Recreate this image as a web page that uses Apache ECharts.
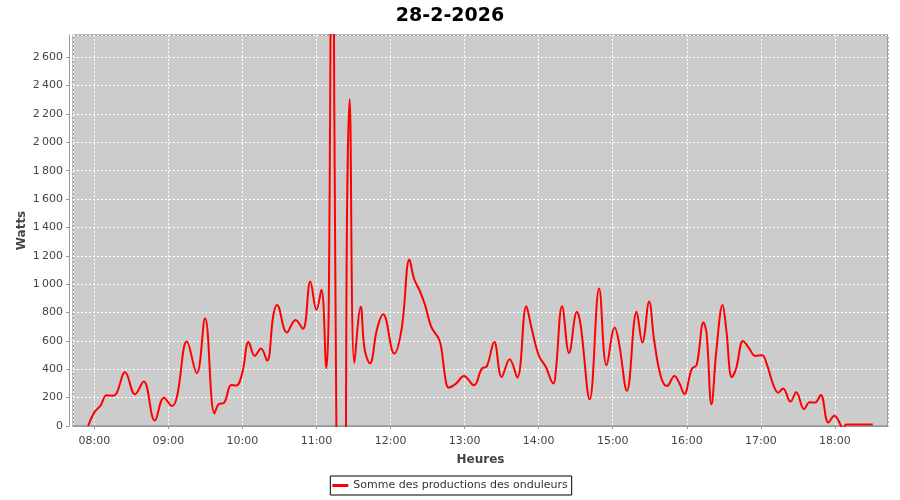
<!DOCTYPE html>
<html>
<head>
<meta charset="utf-8">
<script src="https://cdn.jsdelivr.net/npm/echarts@6/dist/echarts.min.js"></script>
<style>
html,body{margin:0;padding:0;background:#fff;}
#chart{width:900px;height:500px;}
</style>
</head>
<body>
<div id="chart"></div>
<script>
const chartTitle = '28-2-2026';
const seriesName = 'Somme des productions des onduleurs';
const xAxisName = 'Heures';
const yAxisName = 'Watts';
const dayDate = [2026, 1, 28];
const xRange = ['07:42:45', '18:43:00'];
const yRange = [0, 2757];
const yStep = 200;

const times = [
  '07:55','08:00','08:05','08:10','08:15','08:18','08:25','08:33','08:40','08:49',
  '08:56:30','09:03','09:07','09:15','09:23','09:29:45','09:37:20','09:41','09:45','09:51',
  '09:55','10:00','10:05','10:10','10:15','10:20','10:25','10:28','10:36','10:43',
  '10:49','10:55','11:00','11:04','11:08','11:10','11:13','11:14:24','11:16','11:19',
  '11:22','11:24:30','11:26:50','11:30:40','11:35:50','11:39','11:43:20','11:49','11:54','12:03',
  '12:09','12:15:20','12:19','12:24','12:28','12:33','12:39','12:41','12:44:40','12:47',
  '12:53','12:59:30','13:07:30','13:14','13:18','13:24','13:30','13:36:30','13:42:40','13:50',
  '13:54','14:00','14:05:30','14:12','14:13:50','14:19','14:24:40','14:31','14:34','14:41:20',
  '14:49','14:55','15:01:40','15:05','15:11:30','15:19:20','15:24','15:29:30','15:33:30','15:39',
  '15:44','15:50','15:54','15:58','16:04','16:08','16:13:30','16:16','16:20','16:24',
  '16:29','16:32','16:36:30','16:40','16:45:40','16:50:30','16:55:30','17:01','17:05','17:09:40',
  '17:14','17:18','17:24','17:28:40','17:35','17:39:30','17:43:50','17:48:30','17:54:40','17:59:30',
  '18:05','18:07','18:09','18:15','18:20','18:25','18:30:40'
];
const watts = [
  0, 96, 143, 216, 214, 230, 379, 224, 313, 38,
  200, 141, 207, 595, 372, 760, 89, 155, 162, 289,
  285, 379, 593, 494, 546, 461, 779, 854, 659, 748,
  685, 1019, 819, 960, 407, 900, 5000, 2278, 150, -4000,
  -4000, 1247, 2304, 444, 841, 540, 442, 683, 788, 511,
  687, 1174, 1040, 946, 852, 699, 616, 558, 322, 271,
  299, 353, 287, 405, 421, 593, 346, 471, 341, 845,
  699, 499, 421, 299, 381, 845, 515, 805, 711, 188,
  969, 428, 694, 590, 248, 806, 588, 878, 607, 348,
  282, 353, 301, 226, 402, 431, 729, 654, 153, 536,
  854, 678, 344, 407, 600, 548, 494, 499, 431, 301,
  235, 264, 172, 238, 118, 167, 165, 219, 24, 73,
  0, -40, 10, 10, 10, 10, 10
];

function toTs(s) {
  const p = s.split(':').map(Number);
  return new Date(dayDate[0], dayDate[1], dayDate[2], p[0], p[1], p[2] || 0).getTime();
}
function pad(n) { return (n < 10 ? '0' : '') + n; }
function fmtWatts(v) {
  if (v % yStep !== 0) return '';
  if (v >= 1000) return Math.floor(v / 1000) + '\u202F' + String(v % 1000).padStart(3, '0');
  return String(v);
}

const seriesData = times.map((t, i) => [toTs(t), watts[i]]);
const FONT = 'DejaVu Sans';

const chart = echarts.init(document.getElementById('chart'), null, {renderer: 'canvas'});
chart.setOption({
  animation: false,
  backgroundColor: '#ffffff',
  title: {
    text: chartTitle, left: 'center', top: 2,
    textStyle: {fontFamily: FONT, fontWeight: 'bold', fontSize: 19, color: '#000'}
  },
  legend: {
    data: [seriesName], left: 'center', top: 476,
    icon: 'rect', itemWidth: 16, itemHeight: 3,
    borderColor: '#000', borderWidth: 1, padding: [4, 4, 4, 2],
    textStyle: {fontFamily: FONT, fontSize: 11, color: '#333'}
  },
  grid: {
    left: 73, top: 35, width: 815, height: 391,
    show: true, backgroundColor: '#cccccc', borderColor: '#777777', borderWidth: 1,
    containLabel: false, outerBoundsMode: 'none'
  },
  xAxis: {
    type: 'time', min: toTs(xRange[0]), max: toTs(xRange[1]), offset: 4,
    minInterval: 3600000, maxInterval: 3600000,
    name: xAxisName, nameLocation: 'middle', nameGap: 24, nameMoveOverlap: false,
    nameTextStyle: {fontFamily: FONT, fontWeight: 'bold', fontSize: 12, color: '#444'},
    axisLine: {show: true, lineStyle: {color: '#999', width: 1}},
    axisTick: {show: true, length: 3, lineStyle: {color: '#999'}},
    axisLabel: {
      fontFamily: FONT, fontSize: 11, color: '#444', margin: 6, hideOverlap: false,
      formatter: v => { const d = new Date(v); return pad(d.getHours()) + ':' + pad(d.getMinutes()); }
    },
    splitLine: {show: true, lineStyle: {color: '#ffffff', width: 1, type: [2, 2]}},
    minorTick: {show: false}
  },
  yAxis: {
    type: 'value', min: yRange[0], max: yRange[1], interval: yStep, offset: 4,
    name: yAxisName, nameLocation: 'middle', nameGap: 41, nameRotate: 90, nameMoveOverlap: false,
    nameTextStyle: {fontFamily: FONT, fontWeight: 'bold', fontSize: 12, color: '#444'},
    axisLine: {show: true, lineStyle: {color: '#999', width: 1}},
    axisTick: {show: true, length: 3, lineStyle: {color: '#999'}},
    axisLabel: {
      fontFamily: FONT, fontSize: 11, color: '#444', margin: 6,
      showMaxLabel: false, formatter: fmtWatts
    },
    splitLine: {show: true, lineStyle: {color: '#ffffff', width: 1, type: [2, 2]}}
  },
  series: [{
    name: seriesName, type: 'line', data: seriesData,
    smooth: 0.4, showSymbol: false, clip: true,
    lineStyle: {color: '#ff0000', width: 2},
    itemStyle: {color: '#ff0000'}
  }]
});
</script>
</body>
</html>
